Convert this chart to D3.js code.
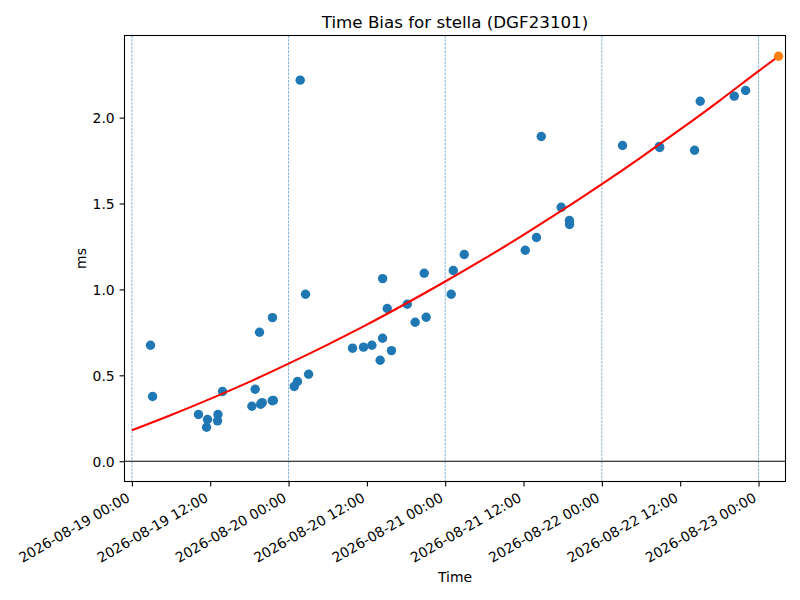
<!DOCTYPE html>
<html>
<head>
<meta charset="utf-8">
<script src="https://cdn.jsdelivr.net/npm/d3@7"></script>
<style>
  body { margin: 0; background: #fff; }
  text { font-family: "DejaVu Sans", sans-serif; fill: #000; }
</style>
</head>
<body>
<svg width="800" height="600"></svg>
<script>
// measured samples
var sampleTimes = [
  "2026-08-19 02:51", "2026-08-19 03:10", "2026-08-19 10:12", "2026-08-19 11:35",
  "2026-08-19 11:26", "2026-08-19 13:11", "2026-08-19 13:07", "2026-08-19 13:53",
  "2026-08-19 18:23", "2026-08-19 18:53", "2026-08-19 19:33", "2026-08-19 19:44",
  "2026-08-19 19:58", "2026-08-19 21:30", "2026-08-19 21:40", "2026-08-19 21:32",
  "2026-08-20 00:52", "2026-08-20 01:22", "2026-08-20 01:47", "2026-08-20 02:36",
  "2026-08-20 03:04", "2026-08-20 09:48", "2026-08-20 11:29", "2026-08-20 12:46",
  "2026-08-20 14:02", "2026-08-20 14:24", "2026-08-20 14:25", "2026-08-20 15:07",
  "2026-08-20 15:46", "2026-08-20 18:11", "2026-08-20 19:24", "2026-08-20 20:47",
  "2026-08-20 21:05", "2026-08-21 00:55", "2026-08-21 01:14", "2026-08-21 02:55",
  "2026-08-21 12:16", "2026-08-21 13:59", "2026-08-21 14:43", "2026-08-21 17:46",
  "2026-08-21 19:02", "2026-08-21 19:03", "2026-08-22 03:10", "2026-08-22 08:48",
  "2026-08-22 08:52", "2026-08-22 14:12", "2026-08-22 15:04", "2026-08-22 20:17",
  "2026-08-22 22:01"
];
var sampleBias = [
  0.675, 0.377, 0.272, 0.243,
  0.198, 0.272, 0.235, 0.406,
  0.320, 0.419, 0.751, 0.332,
  0.341, 0.352, 0.354, 0.836,
  0.435, 0.464, 2.218, 0.972,
  0.506, 0.658, 0.664, 0.675,
  0.588, 0.716, 1.063, 0.889,
  0.644, 0.914, 0.809, 1.094,
  0.838, 0.972, 1.110, 1.203,
  1.228, 1.302, 1.890, 1.478,
  1.401, 1.378, 1.838, 1.832,
  1.826, 1.810, 2.095, 2.125,
  2.158
];

// fitted trend as drawn
var fitTimes = [
  "2026-08-19 00:00", "2026-08-19 06:00", "2026-08-19 12:00", "2026-08-19 18:00",
  "2026-08-20 00:00", "2026-08-20 06:00", "2026-08-20 12:00", "2026-08-20 18:00",
  "2026-08-21 00:00", "2026-08-21 06:00", "2026-08-21 12:00", "2026-08-21 18:00",
  "2026-08-22 00:00", "2026-08-22 06:00", "2026-08-22 12:00", "2026-08-22 18:00",
  "2026-08-23 00:00", "2026-08-23 03:04"
];
var fitBias = [
  0.180, 0.269, 0.363, 0.462,
  0.568, 0.679, 0.795, 0.918,
  1.046, 1.179, 1.318, 1.463,
  1.613, 1.769, 1.931, 2.098,
  2.271, 2.357
];

var predTime = ["2026-08-23 03:04"];
var predBias = [2.357];

var midnights = ["2026-08-19 00:00", "2026-08-20 00:00", "2026-08-21 00:00", "2026-08-22 00:00", "2026-08-23 00:00"];
var tickTimes = [
  "2026-08-19 00:00", "2026-08-19 12:00", "2026-08-20 00:00", "2026-08-20 12:00",
  "2026-08-21 00:00", "2026-08-21 12:00", "2026-08-22 00:00", "2026-08-22 12:00",
  "2026-08-23 00:00"
];
var yTicks = [0.0, 0.5, 1.0, 1.5, 2.0];
var xLimits = ["2026-08-18 22:52", "2026-08-23 04:08"];
var yLimits = [-0.118, 2.478];

var parse = d3.utcParse("%Y-%m-%d %H:%M"),
    fmt = d3.utcFormat("%Y-%m-%d %H:%M");

var svg = d3.select("svg"),
    margin = {left: 124.5, top: 35.5, right: 14.5, bottom: 118.5},
    width = 800 - margin.left - margin.right,
    height = 600 - margin.top - margin.bottom,
    g = svg.append("g").attr("transform", "translate(" + margin.left + "," + margin.top + ")");

var x = d3.scaleUtc()
    .domain(xLimits.map(parse))
    .range([0, width]);

var y = d3.scaleLinear()
    .domain(yLimits)
    .range([height, 0]);

var points = sampleTimes.map(function(t, i) { return {t: parse(t), v: sampleBias[i]}; });
var fit = fitTimes.map(function(t, i) { return {t: parse(t), v: fitBias[i]}; });
var pred = predTime.map(function(t, i) { return {t: parse(t), v: predBias[i]}; });

// day separators
g.selectAll(".day-line")
    .data(midnights.map(parse))
    .enter().append("line")
    .attr("class", "day-line")
    .attr("x1", function(d) { return x(d); })
    .attr("x2", function(d) { return x(d); })
    .attr("y1", 0)
    .attr("y2", height)
    .attr("stroke", "#1f77b4")
    .attr("stroke-opacity", 0.8)
    .attr("stroke-width", 0.7)
    .attr("stroke-dasharray", "2.6,1.1");

// zero line
g.append("line")
    .attr("x1", 0)
    .attr("x2", width)
    .attr("y1", y(0))
    .attr("y2", y(0))
    .attr("stroke", "#000")
    .attr("stroke-width", 1.1);

g.selectAll(".pt")
    .data(points)
    .enter().append("circle")
    .attr("class", "pt")
    .attr("cx", function(d) { return x(d.t); })
    .attr("cy", function(d) { return y(d.v); })
    .attr("r", 4.7)
    .attr("fill", "#1f77b4");

var fitLine = d3.line()
    .x(function(d) { return x(d.t); })
    .y(function(d) { return y(d.v); })
    .curve(d3.curveMonotoneX);

g.append("path")
    .attr("d", fitLine(fit))
    .attr("fill", "none")
    .attr("stroke", "red")
    .attr("stroke-width", 2.1);

g.selectAll(".pred")
    .data(pred)
    .enter().append("circle")
    .attr("class", "pred")
    .attr("cx", function(d) { return x(d.t); })
    .attr("cy", function(d) { return y(d.v); })
    .attr("r", 4.7)
    .attr("fill", "#ff7f0e");

// axes
var xAxis = d3.axisBottom(x)
    .tickValues(tickTimes.map(parse))
    .tickFormat(fmt)
    .tickSize(4.9)
    .tickPadding(4.9);

var yAxis = d3.axisLeft(y)
    .tickValues(yTicks)
    .tickFormat(d3.format(".1f"))
    .tickSize(4.9)
    .tickPadding(4.9);

var gx = g.append("g")
    .attr("transform", "translate(0," + height + ")")
    .call(xAxis);
gx.select(".domain").remove();
gx.selectAll("line").attr("stroke-width", 1.1);
gx.selectAll("text")
    .attr("font-size", "13.9px")
    .attr("text-anchor", "end")
    .attr("dy", null)
    .attr("y", null)
    .attr("transform", "translate(-1.6,19) rotate(-30)");

var gy = g.append("g").call(yAxis);
gy.select(".domain").remove();
gy.selectAll("line").attr("stroke-width", 1.1);
gy.selectAll("text")
    .attr("font-size", "13.9px")
    .attr("dy", "0.36em");

// frame
g.append("rect")
    .attr("width", width)
    .attr("height", height)
    .attr("fill", "none")
    .attr("stroke", "#000")
    .attr("stroke-width", 1.1);

svg.append("text")
    .attr("x", margin.left + width / 2)
    .attr("y", 27.5)
    .attr("text-anchor", "middle")
    .attr("font-size", "16.7px")
    .text("Time Bias for stella (DGF23101)");

svg.append("text")
    .attr("x", margin.left + width / 2)
    .attr("y", 582)
    .attr("text-anchor", "middle")
    .attr("font-size", "13.9px")
    .text("Time");

svg.append("text")
    .attr("transform", "translate(85.5," + (margin.top + height / 2) + ") rotate(-90)")
    .attr("text-anchor", "middle")
    .attr("font-size", "13.9px")
    .text("ms");
</script>
</body>
</html>
